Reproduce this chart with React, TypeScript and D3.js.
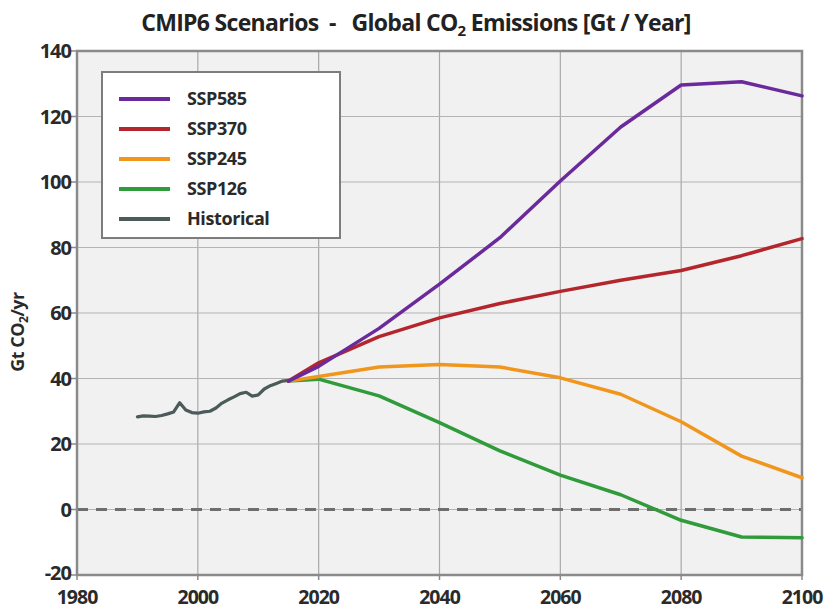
import React from "react";
import * as d3 from "d3";

const scenarioYears = [2015, 2020, 2030, 2040, 2050, 2060, 2070, 2080, 2090, 2100];
const ssp585 = [39.2, 43.7, 55.3, 68.8, 83.0, 100.3, 116.8, 129.6, 130.6, 126.3];
const ssp370 = [39.2, 44.8, 52.8, 58.5, 62.9, 66.6, 70.0, 73.0, 77.5, 82.7];
const ssp245 = [39.2, 40.6, 43.5, 44.3, 43.5, 40.2, 35.2, 26.8, 16.3, 9.7];
const ssp126 = [39.2, 39.8, 34.7, 26.5, 17.9, 10.5, 4.5, -3.3, -8.4, -8.6];

const histYears = [1990, 1991, 1992, 1993, 1994, 1995, 1996, 1997, 1998, 1999, 2000, 2001, 2002, 2003, 2004, 2005, 2006, 2007, 2008, 2009, 2010, 2011, 2012, 2013, 2014, 2015];
const historical = [28.3, 28.6, 28.5, 28.4, 28.7, 29.2, 29.8, 32.6, 30.4, 29.6, 29.4, 29.8, 30.0, 31.0, 32.5, 33.5, 34.4, 35.4, 35.8, 34.6, 35.0, 36.8, 37.8, 38.5, 39.2, 39.4];

const xTicks = [1980, 2000, 2020, 2040, 2060, 2080, 2100];
const yTicks = [-20, 0, 20, 40, 60, 80, 100, 120, 140];

const seriesNames = ["SSP585", "SSP370", "SSP245", "SSP126", "Historical"];
const seriesColors = ["#6b2a9c", "#b3262b", "#f0961c", "#2f9b3a", "#4b5b59"];

const W = 830, H = 610;
const M = { left: 77, right: 802, top: 51, bottom: 575 };
const FONT = "'Open Sans', 'Noto Sans', sans-serif";

export default function App() {
  const x = d3.scaleLinear().domain([1980, 2100]).range([M.left, M.right]);
  const y = d3.scaleLinear().domain([-20, 140]).range([M.bottom, M.top]);
  const line = d3.line<[number, number]>().x(d => x(d[0])).y(d => y(d[1]));

  const scen = [ssp585, ssp370, ssp245, ssp126];
  const scenPaths = scen.map(vals => line(scenarioYears.map((yr, i) => [yr, vals[i]] as [number, number])) || "");
  const histPath = line(histYears.map((yr, i) => [yr, historical[i]] as [number, number])) || "";
  const order = [3, 2, 1, 0];

  return (
    <svg width={W} height={H} style={{ position: "absolute", left: 0, top: 0, background: "#fff" }}>
      <rect x={0} y={0} width={W} height={H} fill="#fff" />
      <text x={416} y={31} textAnchor="middle" fontFamily={FONT} fontWeight={700} fontSize={23} fill="#222" letterSpacing={-0.7} style={{ whiteSpace: "pre" }}>
        {"CMIP6 Scenarios  -   Global CO"}<tspan fontSize={15} dy={5}>2</tspan><tspan dy={-5}>{" Emissions [Gt / Year]"}</tspan>
      </text>
      <rect x={M.left} y={M.top} width={M.right - M.left} height={M.bottom - M.top} fill="#f1f1f1" />
      {xTicks.slice(1, -1).map(t => (
        <line key={"gx" + t} x1={x(t)} x2={x(t)} y1={M.top} y2={M.bottom} stroke="#a9a9a9" strokeWidth={1.2} />
      ))}
      {yTicks.slice(1, -1).map(t => (
        <line key={"gy" + t} x1={M.left} x2={M.right} y1={y(t)} y2={y(t)} stroke="#b4b4b4" strokeWidth={1.2} />
      ))}
      <line x1={M.left} x2={M.right} y1={y(0)} y2={y(0)} stroke="#6e6e6e" strokeWidth={3} strokeDasharray="11,8" />
      <rect x={M.left} y={M.top} width={M.right - M.left} height={M.bottom - M.top} fill="none" stroke="#8a8a8a" strokeWidth={2.5} />
      {yTicks.map(t => (
        <g key={"ty" + t}>
          <line x1={M.left - 6} x2={M.left} y1={y(t)} y2={y(t)} stroke="#8a8a8a" strokeWidth={1.5} />
          <text x={M.left - 6} y={y(t) - (t === -20 ? 2 : 0)} dy="0.36em" textAnchor="end" fontFamily={FONT} fontWeight={700} fontSize={20} fill="#2a2a2a" letterSpacing={-1}>{t}</text>
        </g>
      ))}
      {xTicks.map(t => (
        <g key={"tx" + t}>
          <line x1={x(t)} x2={x(t)} y1={M.bottom} y2={M.bottom + 5} stroke="#8a8a8a" strokeWidth={1.5} />
          <text x={x(t)} y={597} dy="0.36em" textAnchor="middle" fontFamily={FONT} fontWeight={700} fontSize={19.5} fill="#2a2a2a" letterSpacing={-1}>{t}</text>
        </g>
      ))}
      <text transform="translate(24,332) rotate(-90)" textAnchor="middle" fontFamily={FONT} fontWeight={700} fontSize={18} fill="#2a2a2a" letterSpacing={-0.5}>
        Gt CO<tspan fontSize={12} dy={4}>2</tspan><tspan dy={-4}>/yr</tspan>
      </text>
      <path d={histPath} fill="none" stroke={seriesColors[4]} strokeWidth={3.2} strokeLinejoin="round" strokeLinecap="round" />
      {order.map(i => (
        <path key={"s" + i} d={scenPaths[i]} fill="none" stroke={seriesColors[i]} strokeWidth={3.5} strokeLinejoin="round" strokeLinecap="round" />
      ))}
      <rect x={102} y={72} width={238} height={166} fill="#fff" stroke="#7d7d7d" strokeWidth={2} />
      {seriesNames.map((n, i) => (
        <g key={"lg" + n}>
          <line x1={119} x2={170} y1={99 + i * 30} y2={99 + i * 30} stroke={seriesColors[i]} strokeWidth={4} />
          <text x={187} y={99 + i * 30} dy="0.36em" fontFamily={FONT} fontWeight={700} fontSize={18} fill="#2a2a2a" letterSpacing={-0.4}>{n}</text>
        </g>
      ))}
    </svg>
  );
}
